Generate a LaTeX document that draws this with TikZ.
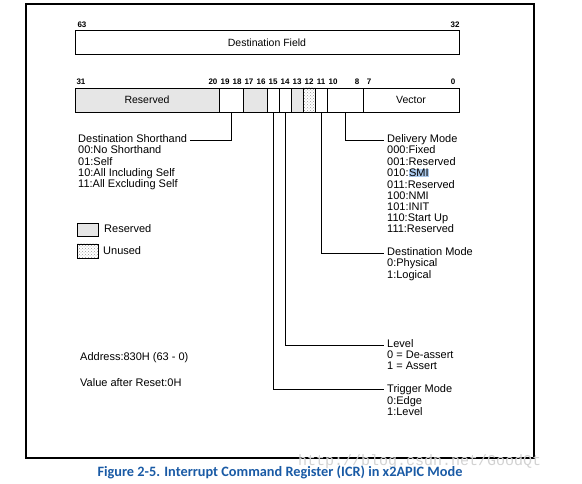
\documentclass[tikz,border=0pt]{standalone}
\usepackage{fontspec}
\setmainfont{Liberation Sans}
\newfontfamily\capfont{Carlito}
\newfontfamily\wmfont{Liberation Mono}
\usetikzlibrary{patterns,positioning}
\definecolor{grigio}{RGB}{230,230,230}
\definecolor{blu}{RGB}{25,90,165}
\definecolor{sel}{RGB}{170,200,235}
\setlength{\fboxsep}{0.5pt}

\begin{document}
\begin{tikzpicture}[x=1pt,y=-1pt,
    campo/.style={draw,line width=0.9pt,inner sep=0pt,minimum height=24pt,font=\fontsize{10.5}{10.5}\selectfont},
    bitnum/.style={inner sep=0pt,font=\bfseries\fontsize{8}{8}\selectfont},
    titolo/.style={inner xsep=3pt,inner ysep=0pt,text height=8pt,text depth=2pt,anchor=west,font=\fontsize{11}{11}\selectfont},
    lista/.style={inner xsep=3pt,inner ysep=0pt,anchor=base west,font=\fontsize{11}{11}\selectfont},
    filo/.style={line width=0.8pt}]
    \useasboundingbox (0,0) rectangle (582,484);

    % Cornice
    \draw[line width=1.1pt] (26,4) rectangle (534,458);

    % Registro alto (63-32)
    \node[campo,minimum width=384pt] (dest) at (267,42.5) {Destination Field};
    \node[bitnum] (b63) at (82,25) {63};
    \node[bitnum] (b32) at (455,25) {32};

    % Registro basso (31-0)
    \node[campo,minimum width=144pt,fill=grigio] (rsv) at (147,100) {Reserved};
    \node[campo,minimum width=24pt] (f1918) at (231,100) {};
    \node[campo,minimum width=24pt,fill=grigio] (f1716) at (255,100) {};
    \node[campo,minimum width=12pt] (f15) at (273,100) {};
    \node[campo,minimum width=12pt] (f14) at (285,100) {};
    \node[campo,minimum width=12pt,fill=grigio] (f13) at (297,100) {};
    \node[campo,minimum width=12pt,pattern=crosshatch dots,pattern color=gray!80] (f12) at (309,100) {};
    \node[campo,minimum width=12pt] (f11) at (321,100) {};
    \node[campo,minimum width=36pt] (f108) at (345,100) {};
    \node[campo,minimum width=96pt] (vec) at (411,100) {Vector};
    \foreach \b in {31,20,19,18,17,16,15,14,13,12,11,10,8,7,0}
        \node[bitnum] (b\b) at ({453-12*\b},82) {\b};

    % Destination Shorthand
    \node[titolo] (sh) at (75,140) {Destination Shorthand};
    \node[lista] (shl) at ([yshift=-11pt]sh.base west) {\begin{tabular}[t]{@{}l@{}}
        00:No Shorthand\\ 01:Self\\ 10:All Including Self\\ 11:All Excluding Self\end{tabular}};
    \draw[filo] (f1918.south) |- (sh.east);

    % Delivery Mode
    \node[titolo] (dm) at (384,140) {Delivery Mode};
    \node[lista] (dml) at ([yshift=-11pt]dm.base west) {\begin{tabular}[t]{@{}l@{}}
        000:Fixed\\ 001:Reserved\\ 010:\colorbox{sel}{SMI}\\ 011:Reserved\\
        100:NMI\\ 101:INIT\\ 110:Start Up\\ 111:Reserved\end{tabular}};
    \draw[filo] (f108.south) |- (dm.west);

    % Destination Mode
    \node[titolo] (dsm) at (384,253) {Destination Mode};
    \node[lista] (dsml) at ([yshift=-11pt]dsm.base west) {\begin{tabular}[t]{@{}l@{}}
        0:Physical\\ 1:Logical\end{tabular}};
    \draw[filo] (f11.south) |- (dsm.west);

    % Level
    \node[titolo] (lv) at (384,345) {Level};
    \node[lista] (lvl) at ([yshift=-11pt]lv.base west) {\begin{tabular}[t]{@{}l@{}}
        0 = De-assert\\ 1 = Assert\end{tabular}};
    \draw[filo] (f14.south) |- (lv.west);

    % Trigger Mode
    \node[titolo] (tm) at (384,389) {Trigger Mode};
    \node[lista] (tml) at ([yshift=-12pt]tm.base west) {\begin{tabular}[t]{@{}l@{}}
        0:Edge\\ 1:Level\end{tabular}};
    \draw[filo] (f15.south) |- (tm.west);

    % Legenda
    \draw[line width=0.9pt,fill=grigio] (77,223) rectangle (98,236);
    \node[titolo] (lrsv) at (101,230) {Reserved};
    \draw[line width=0.9pt,pattern=crosshatch dots,pattern color=gray!80] (77,244) rectangle (98,258);
    \node[titolo] (lunu) at (100,252) {Unused};

    % Indirizzo e valore
    \node[titolo] (addr) at (77,357) {Address:830H (63 - 0)};
    \node[titolo] (rst) at (77,383) {Value after Reset:0H};

    % Didascalia
    \node[inner sep=0pt,anchor=west,text=gray!35,font=\wmfont\fontsize{15}{15}\selectfont] (wm) at (298,462) {http://blog.csdn.net/GoodQt};
    \node[inner sep=0pt,text=blu,font=\capfont\bfseries\fontsize{14.3}{16}\selectfont] (cap) at (280,472) {Figure 2-5. Interrupt Command Register (ICR) in x2APIC Mode};
\end{tikzpicture}
\end{document}
